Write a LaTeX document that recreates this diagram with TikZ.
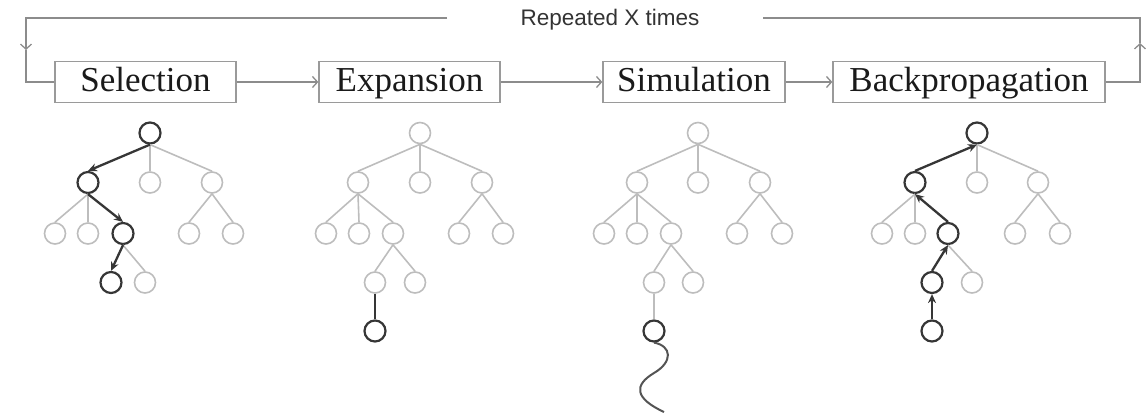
\documentclass[tikz,border=0pt]{standalone}
\usepackage{fontspec}
\setmainfont{Liberation Serif}
\newfontfamily\labelsans{Liberation Sans}
\usetikzlibrary{arrows.meta}
\definecolor{lightc}{HTML}{BDBDBD}
\definecolor{darkc}{HTML}{363636}
\definecolor{boxc}{HTML}{9A9A9A}
\definecolor{linec}{HTML}{8C8C8C}
\definecolor{txtc}{HTML}{1A1A1A}
\definecolor{labc}{HTML}{333333}
\begin{document}
\begin{tikzpicture}[x=1pt,y=-1pt,
 stage/.style={draw=boxc, line width=1.3pt, minimum height=41pt, inner xsep=0pt, inner ysep=0pt,
   text height=23pt, text depth=3pt, font=\fontsize{35}{40}\selectfont, text=txtc},
 flow/.style={draw=linec, line width=1.3pt, -{Straight Barb[length=5pt,width=11pt,line width=1.3pt]}},
 loopline/.style={draw=linec, line width=1.3pt},
 nd/.style={circle, draw=lightc, line width=1.6pt, minimum size=21pt, inner sep=0pt},
 dk/.style={circle, draw=darkc, line width=2.2pt, minimum size=21pt, inner sep=0pt},
 le/.style={draw=lightc, line width=1.6pt},
 de/.style={draw=darkc, line width=2.3pt},
 da/.style={de, -{Stealth[length=9pt,width=8pt]}},
]
\useasboundingbox (0,0) rectangle (1147,419);

% stage boxes
\node[stage, minimum width=181pt] (sel) at (145.5,82) {Selection};
\node[stage, minimum width=181pt] (exp) at (409.5,82) {Expansion};
\node[stage, minimum width=182pt] (sim) at (694,82) {Simulation};
\node[stage, minimum width=272pt] (bp) at (969,82) {Backpropagation};

\draw[flow] (sel.east) -- (exp.west);
\draw[flow] (exp.east) -- (sim.west);
\draw[flow] (sim.east) -- (bp.west);

% loop
\node[font=\labelsans\fontsize{22.5}{27}\selectfont, text=labc, anchor=base, inner sep=0pt] (rep) at (610,26) {Repeated X times};
\coordinate (lt) at (26,18);
\coordinate (lm) at (26,50);
\coordinate (rt) at (1140,18);
\coordinate (rm) at (1140,43);
\coordinate (gl) at (447,18);
\coordinate (gr) at (763,18);
\draw[flow] (gl) -- (lt) -- (lm);
\draw[loopline] (lm) |- (sel.west);
\draw[flow] (bp.east) -| (rm);
\draw[loopline] (rm) -- (rt) -- (gr);

% ---------- Tree 1: Selection ----------
\node[dk] (ar) at (150,133) {};
\node[dk] (aa) at (88,182.5) {};
\node[nd] (ab) at (150,182.5) {};
\node[nd] (ac) at (212,182.5) {};
\node[nd] (ad) at (55,233.5) {};
\node[nd] (ae) at (88,233.5) {};
\node[dk] (af) at (123,233.5) {};
\node[nd] (ag) at (189,233.5) {};
\node[nd] (ah) at (233,233.5) {};
\node[dk] (ai) at (111,282.5) {};
\node[nd] (aj) at (145,282.5) {};
\draw[le] (ar.south) -- (ab.north);
\draw[le] (ar.south) -- (ac.north);
\draw[le] (aa.south) -- (ad.north);
\draw[le] (aa.south) -- (ae.north);
\draw[le] (ac.south) -- (ag.north);
\draw[le] (ac.south) -- (ah.north);
\draw[le] (af.south) -- (aj.north);
\draw[da] (ar.south) -- (aa.north);
\draw[da] (aa.south) -- (af.north);
\draw[da] (af.south) -- (ai.north);

% ---------- Tree 2: Expansion ----------
\node[nd] (br) at (420,133) {};
\node[nd] (ba) at (358,182.5) {};
\node[nd] (bb) at (420,182.5) {};
\node[nd] (bc) at (482,182.5) {};
\node[nd] (bd) at (326,233.5) {};
\node[nd] (be) at (359,233.5) {};
\node[nd] (bf) at (393,233.5) {};
\node[nd] (bg) at (459,233.5) {};
\node[nd] (bh) at (503,233.5) {};
\node[nd] (bi) at (375,282.5) {};
\node[nd] (bj) at (415,282.5) {};
\node[dk] (bk) at (375,331) {};
\draw[le] (br.south) -- (ba.north);
\draw[le] (br.south) -- (bb.north);
\draw[le] (br.south) -- (bc.north);
\draw[le] (ba.south) -- (bd.north);
\draw[le] (ba.south) -- (be.north);
\draw[le] (ba.south) -- (bf.north);
\draw[le] (bc.south) -- (bg.north);
\draw[le] (bc.south) -- (bh.north);
\draw[le] (bf.south) -- (bi.north);
\draw[le] (bf.south) -- (bj.north);
\draw[de] (bi.south) -- (bk.north);

% ---------- Tree 3: Simulation ----------
\node[nd] (cr) at (698,133) {};
\node[nd] (ca) at (637,182.5) {};
\node[nd] (cb) at (698,182.5) {};
\node[nd] (cc) at (760,182.5) {};
\node[nd] (cd) at (604,233.5) {};
\node[nd] (ce) at (637,233.5) {};
\node[nd] (cf) at (671,233.5) {};
\node[nd] (cg) at (737,233.5) {};
\node[nd] (ch) at (782,233.5) {};
\node[nd] (ci) at (654,282.5) {};
\node[nd] (cj) at (693,282.5) {};
\node[dk] (ck) at (654,331) {};
\draw[le] (cr.south) -- (ca.north);
\draw[le] (cr.south) -- (cb.north);
\draw[le] (cr.south) -- (cc.north);
\draw[le] (ca.south) -- (cd.north);
\draw[le] (ca.south) -- (ce.north);
\draw[le] (ca.south) -- (cf.north);
\draw[le] (cc.south) -- (cg.north);
\draw[le] (cc.south) -- (ch.north);
\draw[le] (cf.south) -- (ci.north);
\draw[le] (cf.south) -- (cj.north);
\draw[le] (ci.south) -- (ck.north);
\coordinate (send) at (664,412);
\draw[draw=darkc!85, line width=2pt] (ck.south) .. controls (672,346) and (673,362) .. (654,373)
  .. controls (634,385) and (634,398) .. (send);

% ---------- Tree 4: Backpropagation ----------
\node[dk] (dr) at (977,133) {};
\node[dk] (da) at (915,182.5) {};
\node[nd] (db) at (977,182.5) {};
\node[nd] (dc) at (1038,182.5) {};
\node[nd] (dd) at (882,233.5) {};
\node[nd] (de) at (915,233.5) {};
\node[dk] (df) at (948,233.5) {};
\node[nd] (dg) at (1015,233.5) {};
\node[nd] (dh) at (1060,233.5) {};
\node[dk] (di) at (932,282.5) {};
\node[nd] (dj) at (972,282.5) {};
\node[dk] (dk) at (932,331) {};
\draw[le] (dr.south) -- (db.north);
\draw[le] (dr.south) -- (dc.north);
\draw[le] (da.south) -- (dd.north);
\draw[le] (da.south) -- (de.north);
\draw[le] (dc.south) -- (dg.north);
\draw[le] (dc.south) -- (dh.north);
\draw[le] (df.south) -- (dj.north);
\draw[da] (da.north) -- (dr.south);
\draw[da] (df.north) -- (da.south);
\draw[da] (di.north) -- (df.south);
\draw[da] (dk.north) -- (di.south);
\end{tikzpicture}
\end{document}
